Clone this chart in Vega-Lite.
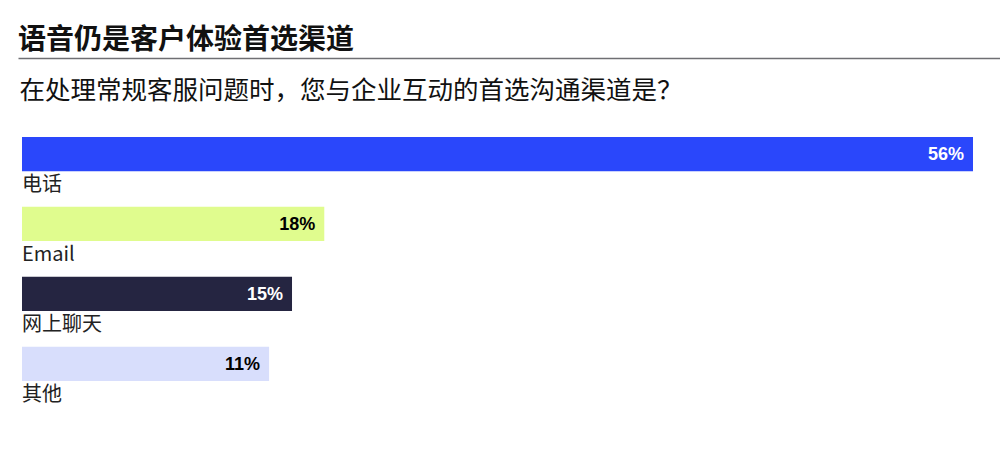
{
  "$schema": "https://vega.github.io/schema/vega-lite/v6.json",
  "width": 982,
  "height": 323,
  "autosize": "none",
  "padding": {"left": 18, "top": 58, "right": 0, "bottom": 69},
  "background": "#ffffff",
  "title": {
    "text": "语音仍是客户体验首选渠道",
    "anchor": "start",
    "font": "Noto Sans CJK SC",
    "fontSize": 28,
    "fontWeight": "bold",
    "color": "#111111",
    "offset": 3,
    "dx": 0
  },
  "data": {
    "values": [
      {"channel": "电话", "share": 0.56, "bar": 56},
      {"channel": "Email", "share": 0.18, "bar": 17.8},
      {"channel": "网上聊天", "share": 0.15, "bar": 15.9},
      {"channel": "其他", "share": 0.11, "bar": 14.55}
    ]
  },
  "encoding": {
    "y": {
      "field": "channel",
      "type": "nominal",
      "sort": null,
      "axis": null,
      "scale": {"paddingInner": 0.51, "paddingOuter": 0.564, "align": 1}
    }
  },
  "layer": [
    {
      "mark": {"type": "bar"},
      "encoding": {
        "x": {
          "field": "bar",
          "type": "quantitative",
          "scale": {"domain": [-0.2355, 57.59], "nice": false, "zero": false},
          "axis": {
            "orient": "top",
            "domain": true,
            "domainColor": "#6f6f73",
            "domainWidth": 1.5,
            "ticks": false,
            "labels": false,
            "grid": false,
            "title": "在处理常规客服问题时，您与企业互动的首选沟通渠道是？",
            "titleX": 1,
            "titleY": 40,
            "titleAlign": "left",
            "titleAnchor": null,
            "titleBaseline": "alphabetic",
            "titleFont": "Noto Sans CJK SC",
            "titleFontSize": 25.5,
            "titleFontWeight": "normal",
            "titleColor": "#111111"
          }
        },
        "x2": {"datum": 0},
        "color": {
          "field": "channel",
          "type": "nominal",
          "legend": null,
          "scale": {
            "domain": ["电话", "Email", "网上聊天", "其他"],
            "range": ["#2a47fb", "#e0fc8e", "#252541", "#d8defc"]
          }
        }
      }
    },
    {
      "mark": {
        "type": "text",
        "align": "right",
        "baseline": "middle",
        "dx": -9,
        "dy": 1,
        "font": "Liberation Sans",
        "fontSize": 18,
        "fontWeight": "bold"
      },
      "encoding": {
        "x": {"field": "bar", "type": "quantitative"},
        "text": {"field": "share", "type": "quantitative", "format": ".0%"},
        "color": {
          "condition": {"test": "datum.channel === '电话' || datum.channel === '网上聊天'", "value": "#ffffff"},
          "value": "#000000"
        }
      }
    },
    {
      "mark": {
        "type": "text",
        "align": "left",
        "baseline": "top",
        "dy": 21,
        "font": "Noto Sans CJK SC",
        "fontSize": 20,
        "color": "#222222"
      },
      "encoding": {
        "x": {"datum": 0},
        "text": {"field": "channel"}
      }
    }
  ],
  "config": {
    "view": {"stroke": null}
  }
}
